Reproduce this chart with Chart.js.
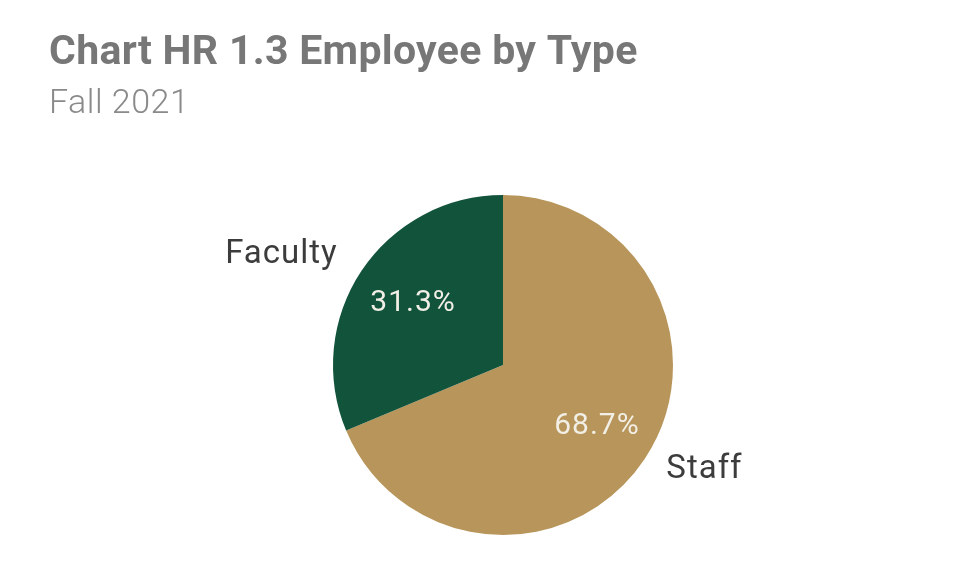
<!DOCTYPE html>
<html lang="en">
<head>
    <meta charset="UTF-8">
    <title>Chart HR 1.3 Employee by Type</title>
    <script src="https://cdn.jsdelivr.net/npm/chart.js"></script>
    <style>
        html, body { margin: 0; padding: 0; background: #fff; }
        #wrap { width: 957px; height: 573px; }
    </style>
</head>
<body>
    <div id="wrap"><canvas id="typeChart" width="957" height="573"></canvas></div>
    <script>
        // data
        const chartTitle = 'Chart HR 1.3 Employee by Type';
        const chartSubtitle = 'Fall 2021';
        const categories = ['Staff', 'Faculty'];
        const shares = [68.7, 31.3];   // percent of employees
        const sliceColors = ['#b8955a', '#12533c'];

        const FONT = 'Roboto, "Noto Sans", sans-serif';

        // title block, drawn at the top left corner
        const headerText = {
            id: 'headerText',
            afterDraw(chart) {
                const ctx = chart.ctx;
                ctx.save();
                ctx.textAlign = 'left';
                ctx.textBaseline = 'alphabetic';
                ctx.fillStyle = '#777777';
                ctx.font = 'bold 41px ' + FONT;
                ctx.letterSpacing = '0.3px';
                ctx.fillText(chartTitle, 49, 64);
                ctx.fillStyle = '#8a8a8a';
                ctx.font = '300 34px ' + FONT;
                ctx.letterSpacing = '0.5px';
                ctx.fillText(chartSubtitle, 49, 113);
                ctx.restore();
            }
        };

        // percent inside each slice, category name just outside it
        const sliceLabels = {
            id: 'sliceLabels',
            afterDatasetsDraw(chart) {
                const ctx = chart.ctx;
                const meta = chart.getDatasetMeta(0);
                ctx.save();
                meta.data.forEach((arc, i) => {
                    const p = arc.getProps(['x', 'y', 'startAngle', 'endAngle', 'outerRadius']);
                    const mid = (p.startAngle + p.endAngle) / 2;
                    const cx = Math.cos(mid), cy = Math.sin(mid);

                    ctx.textAlign = 'center';
                    ctx.textBaseline = 'middle';
                    ctx.fillStyle = '#f2efe6';
                    ctx.font = '30px ' + FONT;
                    ctx.letterSpacing = '1px';
                    const r1 = p.outerRadius * 0.65;
                    ctx.fillText(shares[i].toFixed(1) + '%', p.x + cx * r1 + 2, p.y + cy * r1);

                    const r2 = p.outerRadius * 1.14;
                    ctx.textAlign = cx < 0 ? 'right' : 'left';
                    ctx.fillStyle = '#3c3c3c';
                    ctx.font = '33px ' + FONT;
                    ctx.fillText(categories[i], p.x + cx * r2 + (cx < 0 ? -4 : 2), p.y + cy * r2 - 3);
                });
                ctx.restore();
            }
        };

        new Chart(document.getElementById('typeChart'), {
            type: 'pie',
            data: {
                labels: categories,
                datasets: [{
                    data: shares,
                    backgroundColor: sliceColors,
                    borderWidth: 0
                }]
            },
            options: {
                responsive: false,
                animation: false,
                layout: { padding: { left: 200, right: 151, top: 195, bottom: 38 } },
                plugins: {
                    legend: { display: false },
                    tooltip: { enabled: false }
                }
            },
            plugins: [headerText, sliceLabels]
        });
    </script>
</body>
</html>
